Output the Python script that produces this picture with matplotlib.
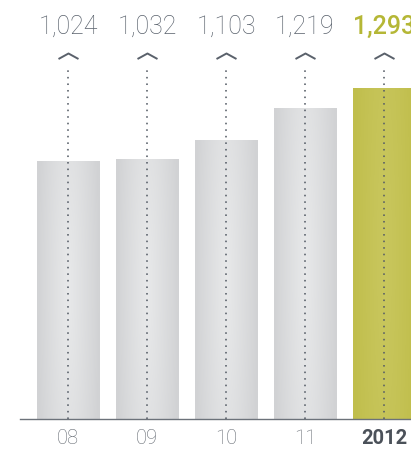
import numpy as np
import matplotlib
matplotlib.use('Agg')
import matplotlib.pyplot as plt
from matplotlib.path import Path
import matplotlib.transforms as mtransforms
from matplotlib.colors import to_rgb

categories = ['08', '09', '10', '11', '2012']
values = [1024, 1032, 1103, 1219, 1293]
value_labels = ['1,024', '1,032', '1,103', '1,219', '1,293']
highlight = [False, False, False, False, True]

W, H = 411, 449
fig = plt.figure(figsize=(W / 100, H / 100), dpi=100)
left_px, base_px = 20, 30
ax = fig.add_axes([left_px / W, base_px / H, (W - left_px) / W, (H - base_px) / H])
x = np.arange(len(values))
xlim = (-0.608, 4.342)
scale = 0.2732
ymin = 80
ymax = ymin + (H - base_px) / scale
bw = 0.785

gray_edge, gray_mid = to_rgb('#d1d2d4'), to_rgb('#e8e9ea')
olive_edge, olive_mid = to_rgb('#c0be4c'), to_rgb('#c9c75e')

bars = ax.bar(x, values, width=bw, color=['#c3c152' if h else '#dcdddf' for h in highlight],
              zorder=1, linewidth=0)

nx, ny = 64, 128
tx = np.linspace(-1, 1, nx)
ty = np.linspace(-1, 1, ny)
TX, TY = np.meshgrid(tx, ty)
w = np.clip(1 - np.sqrt(TX ** 2 + (0.35 * TY) ** 2), 0, 1) ** 0.9
for xi, v, h, b in zip(x, values, highlight, bars):
    e, m = (olive_edge, olive_mid) if h else (gray_edge, gray_mid)
    img = np.zeros((ny, nx, 3))
    for c in range(3):
        img[..., c] = e[c] + (m[c] - e[c]) * w
    im = ax.imshow(img, extent=[xi - bw / 2, xi + bw / 2, ymin, v], aspect='auto',
                   zorder=1.5, interpolation='bilinear')
    im.set_clip_path(b)

ax.set_xlim(*xlim)
ax.set_ylim(ymin, ymax)

trans = mtransforms.blended_transform_factory(ax.transData, ax.transAxes)
caret = Path([(-1, -0.55), (0, 0), (1, -0.55)], [Path.MOVETO, Path.LINETO, Path.LINETO])

font = ['Roboto', 'DejaVu Sans']
for xi, lab, cat, h in zip(x, value_labels, categories, highlight):
    ax.plot([xi, xi], [0, 0.843], transform=trans, ls=(0, (1, 3.1)), lw=1.15,
            color='#555c66', zorder=3, clip_on=False)
    ax.plot([xi], [0.874], transform=trans, marker=caret, markersize=14.4,
            mfc='none', mec='#5a616b', mew=1.4, ls='none', zorder=3, clip_on=False)
    ax.text(xi, 0.936, lab, transform=trans, ha='center', va='center',
            fontsize=18, family=font, fontweight='medium' if h else 'light',
            color='#b5b736' if h else '#59616c', clip_on=False)
    ax.text(xi, -0.046, cat, transform=trans, ha='center', va='center',
            fontsize=14.5, family=font, fontweight='bold' if h else 'light',
            color='#4b5159' if h else '#656b73', clip_on=False)

for s in ['top', 'left', 'right']:
    ax.spines[s].set_visible(False)
ax.spines['bottom'].set_color('#6c727a')
ax.spines['bottom'].set_linewidth(1.0)
ax.spines['bottom'].set_zorder(4)
ax.set_xticks([])
ax.set_yticks([])
ax.patch.set_visible(False)

fig.savefig('out.png', dpi=100)
